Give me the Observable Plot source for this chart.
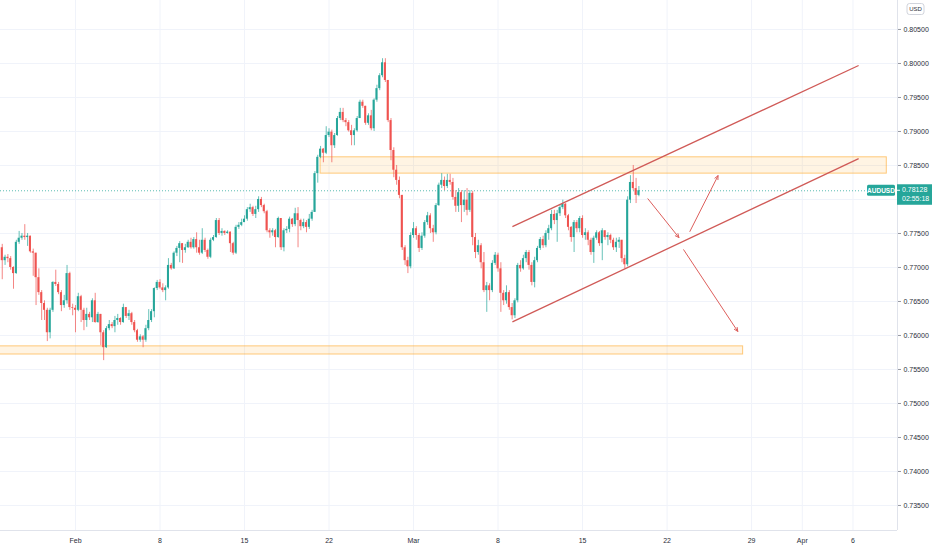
<!DOCTYPE html>
<html><head><meta charset="utf-8">
<script src="https://cdn.jsdelivr.net/npm/d3@7"></script>
<script src="https://cdn.jsdelivr.net/npm/@observablehq/plot@0.6"></script>
<style>
html,body{margin:0;padding:0;background:#fff;}
#chart{width:932px;height:550px;overflow:hidden;}
</style></head><body><div id="chart"></div>
<script>
// ---- data (AUDUSD 4H, bar index 0 = first bar of Feb 1; weekends skipped) ----
const symbol = "AUDUSD";
const currency = "USD";
const countdown = "02:55:18";
const firstBar = -26;
const firstOpen = 0.7729;
const closes = [
0.7710,0.7715,0.7713,0.7700,0.7691,0.7737,0.7743,0.7746,0.7744,0.7746,
0.7723,0.7721,0.7685,0.7663,0.7647,0.7637,0.7604,0.7637,0.7678,0.7675,
0.7663,0.7644,0.7651,0.7691,0.7641,0.7640,0.7637,0.7657,0.7637,0.7622,
0.7631,0.7626,0.7651,0.7619,0.7631,0.7604,0.7582,0.7610,0.7616,0.7613,
0.7622,0.7625,0.7619,0.7641,0.7628,0.7632,0.7619,0.7607,0.7593,0.7598,
0.7593,0.7610,0.7622,0.7635,0.7669,0.7678,0.7670,0.7666,0.7670,0.7703,
0.7698,0.7721,0.7728,0.7735,0.7725,0.7729,0.7737,0.7729,0.7741,0.7729,
0.7721,0.7740,0.7725,0.7715,0.7740,0.7744,0.7769,0.7750,0.7753,0.7750,
0.7752,0.7735,0.7721,0.7759,0.7762,0.7766,0.7771,0.7785,0.7788,0.7778,
0.7785,0.7800,0.7791,0.7782,0.7754,0.7751,0.7754,0.7744,0.7772,0.7729,
0.7754,0.7756,0.7771,0.7763,0.7779,0.7769,0.7760,0.7766,0.7759,0.7771,
0.7781,0.7838,0.7862,0.7874,0.7868,0.7894,0.7899,0.7879,0.7894,0.7919,
0.7928,0.7916,0.7913,0.7901,0.7894,0.7901,0.7919,0.7943,0.7937,0.7912,
0.7923,0.7904,0.7946,0.7963,0.7982,0.8001,0.7975,0.7916,0.7872,0.7843,
0.7828,0.7806,0.7729,0.7710,0.7701,0.7747,0.7757,0.7747,0.7728,0.7746,
0.7766,0.7776,0.7757,0.7751,0.7791,0.7821,0.7828,0.7819,0.7828,0.7825,
0.7803,0.7790,0.7810,0.7791,0.7799,0.7784,0.7809,0.7744,0.7722,0.7732,
0.7707,0.7666,0.7673,0.7666,0.7706,0.7718,0.7698,0.7662,0.7651,0.7663,
0.7641,0.7629,0.7651,0.7703,0.7698,0.7713,0.7722,0.7703,0.7678,0.7710,
0.7728,0.7741,0.7732,0.7750,0.7757,0.7778,0.7769,0.7779,0.7788,0.7793,
0.7776,0.7759,0.7744,0.7766,0.7757,0.7772,0.7747,0.7751,0.7740,0.7722,
0.7743,0.7751,0.7735,0.7754,0.7744,0.7747,0.7740,0.7729,0.7737,0.7740,
0.7713,0.7704,0.7799,0.7825,0.7816,0.7806,0.78128];
const highs = [
0.7734,0.7718,0.7719,0.7716,0.7701,0.7740,0.7753,0.7750,0.7763,0.7750,
0.7746,0.7727,0.7721,0.7698,0.7666,0.7651,0.7640,0.7640,0.7679,0.7696,
0.7678,0.7666,0.7659,0.7703,0.7693,0.7646,0.7644,0.7662,0.7659,0.7640,
0.7640,0.7634,0.7654,0.7662,0.7634,0.7631,0.7607,0.7613,0.7622,0.7619,
0.7628,0.7631,0.7626,0.7646,0.7641,0.7637,0.7634,0.7622,0.7609,0.7601,
0.7600,0.7615,0.7638,0.7638,0.7670,0.7681,0.7682,0.7676,0.7673,0.7713,
0.7706,0.7723,0.7731,0.7738,0.7735,0.7734,0.7740,0.7743,0.7744,0.7751,
0.7740,0.7757,0.7743,0.7727,0.7743,0.7747,0.7772,0.7772,0.7757,0.7754,
0.7754,0.7752,0.7737,0.7762,0.7766,0.7771,0.7776,0.7788,0.7793,0.7790,
0.7790,0.7804,0.7803,0.7793,0.7784,0.7757,0.7757,0.7756,0.7774,0.7772,
0.7757,0.7760,0.7774,0.7772,0.7787,0.7788,0.7771,0.7771,0.7769,0.7778,
0.7784,0.7841,0.7865,0.7878,0.7875,0.7907,0.7904,0.7902,0.7897,0.7922,
0.7934,0.7934,0.7919,0.7916,0.7909,0.7904,0.7922,0.7946,0.7946,0.7937,
0.7926,0.7931,0.7948,0.7968,0.7985,0.8007,0.8007,0.7975,0.7919,0.7876,
0.7850,0.7833,0.7806,0.7732,0.7715,0.7751,0.7766,0.7760,0.7750,0.7751,
0.7769,0.7781,0.7779,0.7762,0.7794,0.7824,0.7838,0.7833,0.7837,0.7837,
0.7831,0.7813,0.7816,0.7813,0.7813,0.7816,0.7813,0.7812,0.7750,0.7740,
0.7735,0.7722,0.7678,0.7676,0.7710,0.7722,0.7721,0.7707,0.7666,0.7673,
0.7666,0.7647,0.7654,0.7706,0.7710,0.7718,0.7725,0.7725,0.7707,0.7715,
0.7731,0.7744,0.7746,0.7754,0.7762,0.7784,0.7784,0.7784,0.7791,0.7799,
0.7794,0.7778,0.7760,0.7769,0.7769,0.7775,0.7776,0.7757,0.7754,0.7743,
0.7746,0.7754,0.7753,0.7757,0.7754,0.7751,0.7749,0.7743,0.7743,0.7744,
0.7740,0.7718,0.7804,0.7835,0.7850,0.7831,0.7819];
const lows = [
0.7682,0.7703,0.7707,0.7696,0.7668,0.7690,0.7734,0.7740,0.7740,0.7731,
0.7721,0.7687,0.7644,0.7659,0.7622,0.7622,0.7591,0.7595,0.7634,0.7672,
0.7660,0.7635,0.7640,0.7646,0.7637,0.7629,0.7604,0.7635,0.7619,0.7607,
0.7612,0.7622,0.7619,0.7618,0.7618,0.7585,0.7563,0.7581,0.7607,0.7610,
0.7604,0.7615,0.7615,0.7618,0.7625,0.7622,0.7615,0.7604,0.7590,0.7590,
0.7582,0.7590,0.7607,0.7619,0.7626,0.7666,0.7668,0.7663,0.7651,0.7668,
0.7696,0.7697,0.7716,0.7707,0.7706,0.7721,0.7728,0.7727,0.7727,0.7721,
0.7718,0.7719,0.7722,0.7712,0.7713,0.7738,0.7743,0.7747,0.7746,0.7747,
0.7749,0.7722,0.7718,0.7719,0.7756,0.7760,0.7766,0.7768,0.7781,0.7775,
0.7772,0.7781,0.7788,0.7779,0.7751,0.7743,0.7746,0.7729,0.7743,0.7725,
0.7723,0.7750,0.7751,0.7759,0.7760,0.7729,0.7754,0.7757,0.7751,0.7756,
0.7768,0.7781,0.7824,0.7860,0.7854,0.7866,0.7891,0.7854,0.7875,0.7893,
0.7916,0.7913,0.7907,0.7899,0.7879,0.7879,0.7899,0.7919,0.7934,0.7909,
0.7909,0.7901,0.7900,0.7943,0.7960,0.7979,0.7972,0.7913,0.7857,0.7832,
0.7821,0.7801,0.7725,0.7703,0.7691,0.7698,0.7743,0.7740,0.7722,0.7725,
0.7743,0.7762,0.7750,0.7737,0.7748,0.7790,0.7816,0.7813,0.7816,0.7821,
0.7799,0.7781,0.7781,0.7766,0.7781,0.7776,0.7781,0.7732,0.7713,0.7718,
0.7698,0.7663,0.7634,0.7651,0.7663,0.7703,0.7693,0.7634,0.7644,0.7646,
0.7637,0.7623,0.7625,0.7648,0.7693,0.7696,0.7707,0.7696,0.7673,0.7670,
0.7707,0.7725,0.7728,0.7729,0.7740,0.7754,0.7763,0.7737,0.7775,0.7785,
0.7772,0.7754,0.7737,0.7722,0.7751,0.7751,0.7743,0.7740,0.7732,0.7718,
0.7706,0.7740,0.7731,0.7710,0.7740,0.7732,0.7735,0.7725,0.7722,0.7728,
0.7707,0.7698,0.7701,0.7794,0.7813,0.7794,0.7804];

const priceTicks = [0.735,0.740,0.745,0.750,0.755,0.760,0.765,0.770,0.775,0.780,0.785,0.790,0.795,0.800,0.805];
const hiddenPriceLabel = 0.780; // covered by the last-price tag
const dateTicks  = [0, 30, 60, 90, 120, 150, 180, 210, 240, 258, 276];
const dateLabels = ["Feb","8","15","22","Mar","8","15","22","29","Apr","6"];

// drawings
const zones = [
  {b1: 87,  b2: 288, p1: 0.7838, p2: 0.7862},
  {b1: -30, b2: 237, p1: 0.7572, p2: 0.7584}
];
const channel = [
  {b1: 155.1, p1: 0.7760, b2: 278, p2: 0.7997},
  {b1: 155.1, p1: 0.7620, b2: 278, p2: 0.7860}
];
const arrows = [
  {b1: 203.2, p1: 0.7801, b2: 214.2, p2: 0.7744},
  {b1: 218.1, p1: 0.7753, b2: 228.1, p2: 0.7835},
  {b1: 215.9, p1: 0.7726, b2: 235.1, p2: 0.7606}
];

// ---- build ----
const up = "#26a69a", down = "#ef5350";
const bars = closes.map((c, k) => {
  const o = k === 0 ? firstOpen : closes[k - 1];
  return {i: firstBar + k, o, c, h: Math.max(highs[k], o, c), l: Math.min(lows[k], o, c)};
});
const upBars = bars.filter(d => d.c >= d.o);
const downBars = bars.filter(d => d.c < d.o);
const lastClose = closes[closes.length - 1];
const xDomain = [-26.62, 291.8];
const yDomain = [0.73132, 0.80926];
const fmt = d3.format(".5f");

const chart = Plot.plot({
  width: 932, height: 550,
  marginLeft: 0, marginRight: 35, marginTop: 0, marginBottom: 20,
  x: {domain: xDomain, axis: null},
  y: {domain: yDomain, axis: null},
  style: {fontFamily: "'Liberation Sans', Arial, sans-serif", fontSize: "7px", background: "#ffffff", color: "#2a2e39", overflow: "visible"},
  marks: [
    Plot.ruleX(dateTicks, {stroke: "#f0f3fa"}),
    Plot.ruleY(priceTicks, {stroke: "#f0f3fa"}),
    Plot.rect(zones, {x1: "b1", x2: "b2", y1: "p1", y2: "p2", fill: "#ff9800", fillOpacity: 0.11, stroke: "#ffa726", strokeOpacity: 0.6, clip: true}),
    Plot.ruleY([lastClose], {stroke: up, strokeOpacity: 0.75, strokeDasharray: "1,2"}),
    Plot.ruleX(upBars, {x: "i", y1: "l", y2: "h", stroke: up, strokeOpacity: 0.7}),
    Plot.ruleX(downBars, {x: "i", y1: "l", y2: "h", stroke: down, strokeOpacity: 0.7}),
    Plot.rect(upBars, {x1: d => d.i - 0.36, x2: d => d.i + 0.36, y1: "o", y2: "c", fill: up}),
    Plot.rect(downBars, {x1: d => d.i - 0.36, x2: d => d.i + 0.36, y1: "o", y2: "c", fill: down}),
    Plot.link(channel, {x1: "b1", y1: "p1", x2: "b2", y2: "p2", stroke: "#d05a57", strokeWidth: 1.3}),
    Plot.arrow(arrows, {x1: "b1", y1: "p1", x2: "b2", y2: "p2", stroke: "#dd5f5c", strokeWidth: 1, headLength: 6, headAngle: 50}),
    Plot.ruleX([xDomain[1]], {stroke: "#e0e3eb"}),
    Plot.ruleY([yDomain[0]], {stroke: "#e0e3eb"}),
    Plot.axisY({anchor: "right", ticks: priceTicks.filter(p => Math.abs(p - hiddenPriceLabel) > 1e-9), tickFormat: fmt, tickSize: 3, tickPadding: 3, stroke: "#9598a1", fill: "#2a2e39"}),
    Plot.axisX({anchor: "bottom", ticks: dateTicks, tickFormat: d => dateLabels[dateTicks.indexOf(d)], tickSize: 0, tickPadding: 8, fill: "#2a2e39"})
  ]
});

// last-price tags and currency badge, positioned with the plot's own scales
const sx = chart.scale("x"), sy = chart.scale("y");
const yp = sy.apply(lastClose), xr = sx.apply(xDomain[1]);
const svg = d3.select(chart);
const g = svg.append("g").attr("font-family", "'Liberation Sans', Arial, sans-serif").attr("text-anchor", "start");
g.append("rect").attr("x", xr - 30).attr("y", yp - 5.5).attr("width", 28).attr("height", 11).attr("rx", 1.5).attr("fill", up);
g.append("text").attr("x", xr - 16).attr("y", yp).attr("dy", "0.35em").attr("text-anchor", "middle").attr("fill", "#fff").attr("font-size", 6.5).attr("font-weight", "bold").text(symbol);
g.append("rect").attr("x", xr).attr("y", yp - 6).attr("width", 35).attr("height", 20.5).attr("fill", up);
g.append("text").attr("x", xr + 5).attr("y", yp - 0.5).attr("dy", "0.35em").attr("text-anchor", "start").attr("fill", "#fff").attr("font-size", 7).text(fmt(lastClose));
g.append("text").attr("x", xr + 5).attr("y", yp + 8.5).attr("dy", "0.35em").attr("text-anchor", "start").attr("fill", "#fff").attr("font-size", 7).text(countdown);
g.append("line").attr("x1", xr).attr("x2", xr + 3).attr("y1", yp).attr("y2", yp).attr("stroke", "#fff");
g.append("rect").attr("x", xr + 10).attr("y", 3.5).attr("width", 17).attr("height", 11).attr("rx", 2.5).attr("fill", "#fff").attr("stroke", "#d1d4dc");
g.append("text").attr("x", xr + 18.5).attr("y", 9).attr("dy", "0.35em").attr("text-anchor", "middle").attr("fill", "#2a2e39").attr("font-size", 6).text(currency);

document.getElementById("chart").appendChild(chart);
</script>
</body></html>
